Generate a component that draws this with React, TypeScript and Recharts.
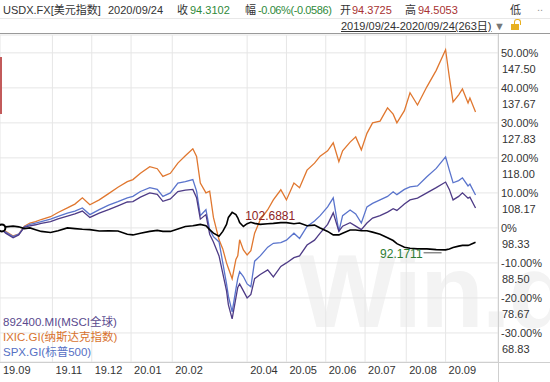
import React from "react"
import { CartesianGrid, Line, LineChart, ReferenceDot, XAxis, YAxis } from "recharts"

// trading-day index since 2019/09/24
const days = [
  0, 3, 7, 10, 13, 16, 19, 22, 27, 31, 36, 40, 44, 48, 53, 58, 63, 68, 71, 75, 80, 84, 87, 91, 95, 99, 103, 105,
  107, 110, 112, 114, 117, 119, 121, 122, 124, 126, 127, 128, 130, 132, 134, 136, 139, 143, 146, 150, 153, 157,
  160, 164, 168, 171, 175, 178, 181, 183, 187, 190, 193, 196, 199, 203, 207, 210, 212, 216, 219, 223, 228, 233,
  238, 240, 242, 245, 247, 250, 251, 254,
]

// % change from the first day
const usdx = [
  0, 0.3, 0.5, 0.3, -0.2, 0, -0.5, -1.0, -1.3, -0.8, 0, -0.2, -0.4, -0.5, -0.9, -0.8, -0.9, -1.8, -2.0, -1.5, -1.0,
  -0.7, -1.0, -1.0, -0.3, 0.4, 0.6, 0.8, 1.0, 0.6, -0.5, -1.5, -2.4, -1.0, 1.0, 3.0, 4.43, 3.8, 2.9, 1.5, 0.4, 1.2,
  1.6, 1.3, 1.0, 1.2, 1.3, 1.5, 1.5, 1.2, 1.4, 0.6, 0.8, 0, -1.0, -2.0, -2.0, -1.5, -0.6, -0.6, -0.8, -0.8, -1.2,
  -1.8, -2.8, -3.6, -4.5, -5.5, -5.8, -6.0, -6.0, -6.2, -6.26, -6.0, -5.6, -5.2, -5.0, -5.0, -4.8, -4.09,
]
const msci = [
  0, -1.5, -2.8, -2.0, 0.2, 0.6, 0.9, 1.3, 1.8, 2.6, 3.4, 4.0, 4.8, 3.0, 4.2, 5.2, 6.3, 7.4, 7.5, 8.8, 10.0, 9.6,
  7.6, 8.3, 10.4, 10.8, 11.0, 8.6, 2.5, 3.8, -1.8, -4.0, -8.0, -13.0, -18.0, -22.0, -26.0, -20.0, -17.0, -16.0,
  -18.0, -20.0, -19.0, -14.5, -13.3, -12.0, -14.0, -11.0, -10.0, -8.5, -8.0, -4.9, -3.5, -1.5, 1.0, 4.3, -1.0, 0.5,
  1.5, 0.5, -0.5, 1.4, 2.8, 3.5, 4.5, 5.5, 5.0, 6.8, 8.0, 8.5, 10.0, 11.5, 13.1, 11.0, 8.0, 9.0, 10.0, 8.5, 8.8,
  5.7,
]
const ixic = [
  0, -1.0, -2.3, -1.8, 0.5, 1.4, 1.8, 2.4, 3.2, 4.4, 5.7, 6.8, 8.6, 6.6, 8.0, 9.8, 11.6, 13.2, 13.8, 15.6, 17.5,
  16.9, 14.7, 15.6, 18.5, 20.6, 22.6, 20.4, 12.8, 10.0, 10.5, 3.0, -3.4, -6.0, -10.0, -11.5, -14.5, -9.0, -8.0,
  -3.4, -6.3, -7.7, -6.5, -1.5, 2.3, 5.2, 8.0, 10.9, 8.0, 12.8, 11.5, 16.5, 18.5, 20.5, 22.0, 24.3, 18.9, 22.0,
  24.5, 26.0, 22.3, 27.0, 30.0, 30.5, 34.3, 32.5, 30.0, 33.5, 38.6, 35.1, 40.3, 45.0, 50.9, 43.1, 36.0, 38.0,
  39.7, 35.7, 37.1, 33.1,
]
const spx = [
  0, -1.2, -2.5, -1.8, 0.3, 1.0, 1.4, 1.8, 2.5, 3.3, 4.2, 4.8, 5.7, 3.8, 5.2, 6.5, 7.5, 8.6, 9.0, 10.4, 11.5, 11.0,
  9.0, 10.0, 12.8, 13.2, 13.8, 10.5, 3.5, 5.2, -0.5, -2.5, -4.0, -10.0, -16.0, -19.5, -24.0, -17.5, -14.5, -12.5,
  -13.9, -16.0, -16.8, -9.5, -8.0, -5.5, -4.4, -4.2, -3.5, -1.5, -3.0, 0.4, 2.0, 3.5, 6.0, 8.6, -1.0, 3.5, 5.1,
  4.0, 1.4, 6.0, 7.0, 8.0, 9.0, 10.3, 9.5, 11.0, 11.7, 12.0, 14.6, 17.0, 20.3, 16.5, 12.9, 13.5, 14.3, 12.0, 12.5,
  9.4,
]

const monthTicks = [0, 28, 49, 70, 92, 132, 153, 174, 195, 217, 238]
const monthLabels = ["19.09", "19.11", "19.12", "20.01", "20.02", "20.04", "20.05", "20.06", "20.07", "20.08", "20.09"]

const pctTicks = [50, 40, 30, 20, 10, 0, -10, -20, -30]
const pctLabels = ["50.00%", "40.00%", "30.00%", "20.00%", "10.00%", "0%", "-10.00%", "-20.00%", "-30.00%"]
const valueLabels = ["147.50", "137.67", "127.83", "118.00", "108.17", "98.33", "88.50", "78.67", "68.83"]

const legendItems = [
  { name: "892400.MI(MSCI全球)", color: "#5a4a8e" },
  { name: "IXIC.GI(纳斯达克指数)", color: "#d8732f" },
  { name: "SPX.GI(标普500)", color: "#5570c4" },
]

const data = days.map((d, i) => ({ d, usdx: usdx[i], msci: msci[i], ixic: ixic[i], spx: spx[i] }))

const FONT = "'Liberation Sans', Arial, sans-serif"
const MIXED = "'Liberation Sans', 'Noto Sans CJK SC', sans-serif"

function RightTick(props: any) {
  const { x, y, payload } = props
  const i = pctTicks.indexOf(payload.value)
  return (
    <g fontFamily={FONT} fontSize={11} fill="#333">
      <text x={x - 5} y={y + 4} textAnchor="start">{pctLabels[i]}</text>
      <text x={x - 4} y={y + 20} textAnchor="start">{valueLabels[i]}</text>
    </g>
  )
}

function BottomTick(props: any) {
  const { x, y, payload } = props
  const i = monthTicks.indexOf(payload.value)
  return (
    <text x={x + 3} y={y + 4} textAnchor="start" fontFamily={FONT} fontSize={11} fill="#333">
      {monthLabels[i]}
    </text>
  )
}

function PeakLabel(props: any) {
  const { viewBox } = props
  const cx = viewBox.x + viewBox.width / 2
  const cy = viewBox.y + viewBox.height / 2
  return (
    <text x={cx + 13} y={cy + 8} fontFamily={FONT} fontSize={12} fill="#8e2424">
      102.6881
    </text>
  )
}

function LowLabel(props: any) {
  const { viewBox } = props
  const cx = viewBox.x + viewBox.width / 2
  const cy = viewBox.y + viewBox.height / 2
  return (
    <g>
      <text x={cx - 23} y={cy + 8} textAnchor="end" fontFamily={FONT} fontSize={12} fill="#2e7d32">
        92.1711
      </text>
      <line x1={cx - 22} x2={cx - 4} y1={cy + 3} y2={cy + 3} stroke="#555" strokeWidth={1} />
    </g>
  )
}

export default function App() {
  return (
    <div style={{ position: "absolute", left: 0, top: 0, width: 550, height: 382, background: "#fff", overflow: "hidden" }}>
      {/* watermark */}
      <div
        style={{
          position: "absolute",
          left: 298,
          top: 232,
          fontFamily: FONT,
          fontWeight: 700,
          fontSize: 104,
          color: "#f3f3f3",
          letterSpacing: -2,
        }}
      >
        Win.d
      </div>

      <div style={{ position: "absolute", left: 0, top: 0 }}>
        <LineChart width={550} height={382} data={data} margin={{ top: 35, right: 0, bottom: 0, left: 0 }}>
          <CartesianGrid stroke="#e6e6e6" />
          <XAxis
            dataKey="d"
            type="number"
            domain={[0, 266]}
            ticks={monthTicks}
            tick={<BottomTick />}
            interval={0}
            tickLine={false}
            axisLine={false}
            height={20}
            allowDataOverflow
          />
          <YAxis
            orientation="right"
            type="number"
            domain={[-38.3, 55.1]}
            ticks={pctTicks}
            tick={<RightTick />}
            interval={0}
            tickLine={false}
            axisLine={false}
            width={52}
            allowDataOverflow
          />
          <Line dataKey="ixic" stroke="#e0772f" strokeWidth={1.3} dot={false} isAnimationActive={false} />
          <Line dataKey="spx" stroke="#5a74cc" strokeWidth={1.3} dot={false} isAnimationActive={false} />
          <Line dataKey="msci" stroke="#4e3b86" strokeWidth={1.3} dot={false} isAnimationActive={false} />
          <Line dataKey="usdx" stroke="#000" strokeWidth={1.6} dot={false} isAnimationActive={false} />
          <ReferenceDot x={1} y={0} r={3.5} fill="#fff" stroke="#000" strokeWidth={2} />
          <ReferenceDot x={124} y={4.43} r={0} label={<PeakLabel />} />
          <ReferenceDot x={238} y={-6.26} r={0} label={<LowLabel />} />
        </LineChart>
      </div>

      {/* frame lines */}
      <div style={{ position: "absolute", left: 0, top: 18, width: 550, height: 1, background: "#e8e8e8" }} />
      <div style={{ position: "absolute", left: 0, top: 33, width: 550, height: 1, background: "#9a9a9a" }} />
      <div style={{ position: "absolute", left: 498, top: 34, width: 1, height: 348, background: "#cfcfcf" }} />
      <div style={{ position: "absolute", left: 0, top: 362, width: 550, height: 1, background: "#cfcfcf" }} />
      <div style={{ position: "absolute", left: 0, top: 57, width: 2, height: 57, background: "#c25a5a" }} />

      {/* header */}
      <div style={{ position: "absolute", left: 3, top: 3, fontFamily: MIXED, fontSize: 11, color: "#333", whiteSpace: "nowrap", lineHeight: "15px" }}>
        <span style={{ position: "absolute", left: 0 }}>USDX.FX[美元指数]</span>
        <span style={{ position: "absolute", left: 105 }}>2020/09/24</span>
        <span style={{ position: "absolute", left: 174 }}>收</span>
        <span style={{ position: "absolute", left: 187, color: "#2f8a3a" }}>94.3102</span>
        <span style={{ position: "absolute", left: 242 }}>幅</span>
        <span style={{ position: "absolute", left: 255, color: "#2f8a3a", letterSpacing: -0.4 }}>-0.06%(-0.0586)</span>
        <span style={{ position: "absolute", left: 337 }}>开</span>
        <span style={{ position: "absolute", left: 349, color: "#a83232" }}>94.3725</span>
        <span style={{ position: "absolute", left: 402 }}>高</span>
        <span style={{ position: "absolute", left: 415, color: "#a83232" }}>94.5053</span>
        <span style={{ position: "absolute", left: 507 }}>低</span>
        <span style={{ position: "absolute", left: 534, top: -3, color: "#999" }}>..</span>
      </div>
      <div
        style={{
          position: "absolute",
          left: 341,
          top: 19,
          fontFamily: MIXED,
          fontSize: 11,
          color: "#333",
          textDecoration: "underline",
          whiteSpace: "nowrap",
          lineHeight: "15px",
        }}
      >
        2019/09/24-2020/09/24(263日)
      </div>
      <div style={{ position: "absolute", left: 494, top: 19, fontSize: 11, color: "#777", fontFamily: FONT, lineHeight: "15px" }}>▼</div>
      <div style={{ position: "absolute", left: 511, top: 24, width: 8, height: 6, background: "#e8b020" }} />
      <div style={{ position: "absolute", left: 514, top: 19, width: 5, height: 5, border: "1px solid #e8b020", borderBottom: "none", borderRadius: "3px 3px 0 0" }} />

      {/* legend */}
      {legendItems.map((item, i) => (
        <div
          key={item.name}
          style={{
            position: "absolute",
            left: 3,
            top: 315 + i * 15,
            fontFamily: MIXED,
            fontSize: 11.5,
            lineHeight: "15px",
            color: item.color,
            whiteSpace: "nowrap",
          }}
        >
          {item.name}
        </div>
      ))}
    </div>
  )
}
